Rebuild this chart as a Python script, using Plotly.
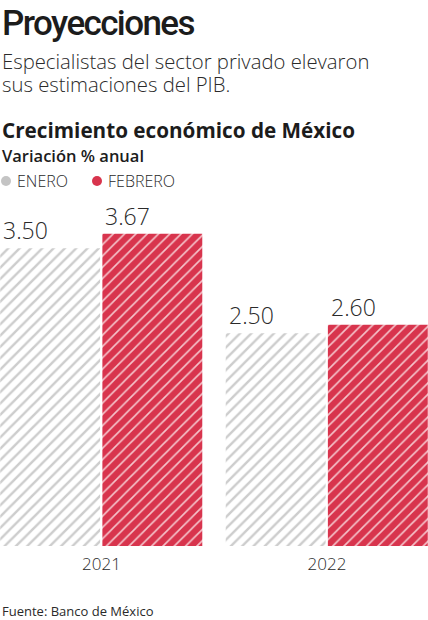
import plotly.graph_objects as go

# datos
years = ["2021", "2022"]
enero = [3.50, 2.50]
febrero = [3.67, 2.60]
series_names = ["ENERO", "FEBRERO"]

W, H = 428, 620
RED = "#d8344d"
GRAY = "#cdcdcd"
INK = "#1c1c1c"
BODY = "Open Sans"
COND = "Roboto"


def py(p):
    # pixel desde arriba -> coordenada paper
    return 1 - p / H


def px(p):
    return p / W


bar_w = 0.443
offsets = [-0.449, 0.004]

fig = go.Figure()
fig.add_trace(go.Bar(
    x=years, y=enero, name=series_names[0],
    width=bar_w, offset=offsets[0],
    marker=dict(color="white", line=dict(width=0),
                pattern=dict(shape="/", fgcolor=GRAY, bgcolor="white",
                             size=8, solidity=0.3, fillmode="replace")),
))
fig.add_trace(go.Bar(
    x=years, y=febrero, name=series_names[1],
    width=bar_w, offset=offsets[1],
    marker=dict(color=RED, line=dict(width=0),
                pattern=dict(shape="/", fgcolor="#f5c4cb", bgcolor=RED,
                             size=8, solidity=0.2, fillmode="replace")),
))

# etiquetas de valor, alineadas al borde izquierdo de cada barra
for vals, off in [(enero, offsets[0]), (febrero, offsets[1])]:
    for i, v in enumerate(vals):
        fig.add_annotation(x=i + off, y=v, xref="x", yref="y",
                           text=f"{v:.2f}", showarrow=False,
                           xanchor="left", yanchor="bottom", xshift=1, yshift=0,
                           font=dict(family=BODY, size=23, color="#2a2a2a", weight=300))

# titulo condensado: se aprieta con letter-spacing
title = "<span style='letter-spacing:-1.6px'>Proyecciones</span>"
texts = [
    (title, 23, dict(family=COND, size=35, color=INK, weight=500)),
    ("Especialistas del sector privado elevaron", 61, dict(family=BODY, size=20.3, color="#2a2a2a", weight=300)),
    ("sus estimaciones del PIB.", 84, dict(family=BODY, size=20.3, color="#2a2a2a", weight=300)),
    ("Crecimiento económico de México", 130, dict(family=BODY, size=20.7, color=INK, weight="bold")),
    ("Variación % anual", 156, dict(family=BODY, size=16.5, color=INK, weight=600)),
    ("Fuente: Banco de México", 611, dict(family=BODY, size=13, color="#2a2a2a")),
]
for t, yc, f in texts:
    fig.add_annotation(x=0, y=py(yc), xref="paper", yref="paper", text=t,
                       showarrow=False, xanchor="left", yanchor="middle", font=f)

# leyenda: punto de color + nombre
legend_items = [(series_names[0], "#c4c4c4", 6), (series_names[1], RED, 97)]
for name, col, cx in legend_items:
    fig.add_shape(type="circle", xref="paper", yref="paper",
                  x0=px(cx - 5), x1=px(cx + 5), y0=py(186), y1=py(176),
                  fillcolor=col, line=dict(width=0))
    fig.add_annotation(x=px(cx + 9), y=py(181), xref="paper", yref="paper",
                       text=name, showarrow=False, xanchor="left", yanchor="middle",
                       font=dict(family=BODY, size=16, color="#2a2a2a", weight=300))

fig.update_layout(
    width=W, height=H,
    margin=dict(l=0, r=0, t=0, b=0),
    paper_bgcolor="white", plot_bgcolor="white",
    showlegend=False,
    barmode="group",
    xaxis=dict(domain=[0, 1], range=[-0.450, 1.448], showgrid=False, zeroline=False,
               showline=False, ticks="", ticklabelstandoff=6,
               tickfont=dict(family=BODY, size=17, color="#2a2a2a", weight=300)),
    yaxis=dict(domain=[py(546), py(200)], range=[0, (546 - 200) / 85.1],
               showgrid=False, zeroline=False, showline=False, showticklabels=False),
)

fig.write_html("out.html", config={"displayModeBar": False},
               post_script="document.body.style.margin='0';")
